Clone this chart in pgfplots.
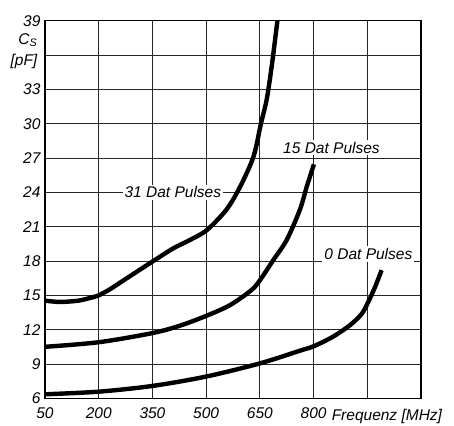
\documentclass[border=0pt]{standalone}
\usepackage{pgfplots}
\pgfplotsset{compat=1.18}
\usepackage{fontspec}
\setmainfont{Liberation Sans}
\newcommand{\lbl}{\fontsize{15.5}{18}\selectfont\itshape}

\begin{document}
\begin{tikzpicture}
\begin{axis}[
  scale only axis, width=376pt, height=377.6pt,
  xmin=50, xmax=1100, ymin=6, ymax=39,
  xtick={50,200,...,1100}, xticklabels={50,200,350,500,650,800,,},
  ytick={6,9,...,39}, yticklabels={6,9,12,15,18,21,24,27,30,33,,39},
  grid=major, major grid style={black!85, line width=0.8pt},
  axis line style={black, line width=1.6pt},
  major tick length=0pt,
  tick label style={font=\lbl},
  xticklabel style={yshift=-6pt},
  yticklabel style={xshift=-1pt},
  clip=false,
]
\addplot[black, line width=4.4pt, smooth, tension=0.5] coordinates {
 (50,14.53) (92,14.42) (140,14.52) (170,14.72) (200,15.0) (235,15.6) (269,16.3) (350,17.95)
 (408,19.1) (455,19.84) (502,20.7) (557,22.5) (595,24.5) (632,27.1) (653,30.0)
 (669,32.1) (683,35) (699,39)};
\addplot[black, line width=4.4pt, smooth, tension=0.5] coordinates {
 (50,10.5) (200,10.9) (350,11.7) (427,12.35) (500,13.2) (567,14.15) (627,15.47)
 (652,16.4) (688,18.1) (725,19.84) (762,22.5) (781,24.5) (801,26.45)};
\addplot[black, line width=4.4pt, smooth, tension=0.5] coordinates {
 (50,6.35) (200,6.58) (350,7.08) (500,7.9) (650,9.05) (762,10.16) (802,10.57)
 (855,11.4) (902,12.4) (935,13.4) (953,14.44) (972,15.75) (990,17.2)};
\node[fill=white, inner sep=2pt, font=\lbl] at (axis cs:407,24) {31 Dat Pulses};
\node[fill=white, inner sep=2pt, font=\lbl] at (axis cs:850,27.9) {15 Dat Pulses};
\node[fill=white, inner sep=2pt, font=\lbl] at (axis cs:953,18.6) {0 Dat Pulses};
\node[font=\lbl, anchor=east, inner sep=0pt] at ([xshift=-7.5pt]axis cs:50,37.3) {C\textsubscript{S}};
\node[font=\lbl, anchor=east, inner sep=0pt] at ([xshift=-7.5pt]axis cs:50,35.4) {[pF]};
\node[font=\lbl, anchor=base west, inner sep=0pt] at ([xshift=18pt,yshift=-22pt]axis cs:800,6) {Frequenz [MHz]};
\coordinate (bl) at (rel axis cs:0,0);
\coordinate (tr) at (rel axis cs:1,1);
\end{axis}
\pgfresetboundingbox
\path[use as bounding box] ([shift={(-45pt,-26.7pt)}]bl) rectangle ([shift={(33pt,20.7pt)}]tr);
\end{tikzpicture}
\end{document}
